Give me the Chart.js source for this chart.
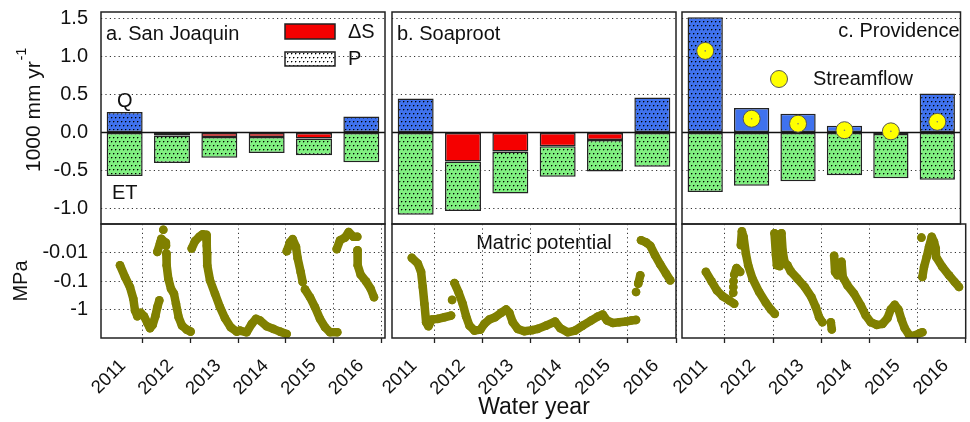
<!DOCTYPE html>
<html>
<head>
<meta charset="utf-8">
<script src="https://cdn.jsdelivr.net/npm/chart.js@4.4.1/dist/chart.umd.min.js"></script>
<style>
  html, body { margin: 0; padding: 0; background: #fff; }
  #wrap { position: relative; width: 970px; height: 422px; }
  #wrap canvas { position: absolute; left: 0; top: 0; }
</style>
</head>
<body>
<div id="wrap">
  <canvas id="aTop" width="970" height="422"></canvas>
  <canvas id="bTop" width="970" height="422"></canvas>
  <canvas id="cTop" width="970" height="422"></canvas>
  <canvas id="aBot" width="970" height="422"></canvas>
  <canvas id="bBot" width="970" height="422"></canvas>
  <canvas id="cBot" width="970" height="422"></canvas>
</div>
<script>
// water years and axis ticks
const years = ['2011', '2012', '2013', '2014', '2015', '2016'];
const yearTicks = [2011, 2012, 2013, 2014, 2015, 2016];
const fluxTicks = [-1, -0.5, 0, 0.5, 1, 1.5];
const psiTicks = [0.01, 0.1, 1];   // shown as -0.01, -0.1, -1 MPa

// water balance, 1000 mm/yr (ET and dS are stacked segments below zero)
const sjQ  = [0.27, null, null, null, null, 0.21];
const sjDS = [null, -0.04, -0.06, -0.06, -0.08, null];
const sjET = [-0.57, -0.36, -0.27, -0.21, -0.22, -0.39];

const spQ  = [0.445, null, null, null, null, 0.46];
const spDS = [null, -0.38, -0.25, -0.18, -0.10, null];
const spET = [-1.08, -0.65, -0.55, -0.40, -0.41, -0.45];

const pvQ  = [1.51, 0.32, 0.245, 0.09, null, 0.51];
const pvDS = [null, null, null, null, -0.02, null];
const pvET = [-0.78, -0.70, -0.64, -0.56, -0.58, -0.62];
const pvStream = [1.07, 0.18, 0.115, 0.03, 0.015, 0.14];

// matric potential: time (water-year axis, WY2011 ends at 2011) and |psi| in MPa, null = gap
const sjT = [2010.517, 2010.622, 2010.727, 2010.797, 2010.832, 2010.881, 2010.951, 2011.021, 2011.091, 2011.147, 2011.203, 2011.259, 2011.301, 2011.343, null,
  2011.301, 2011.357, 2011.385, 2011.47, 2011.483, null,
  2011.427, null,
  2011.49, 2011.497, 2011.532, 2011.588, 2011.651, 2011.693, 2011.749, 2011.819, 2011.917, 2012.001, null,
  2012.023, 2012.092, 2012.183, 2012.254, 2012.324, 2012.34, 2012.345, 2012.35, 2012.408, 2012.513, 2012.618, 2012.723, 2012.842, 2012.968, 2013.038, 2013.178, 2013.284, 2013.374, 2013.458, 2013.598, 2013.738, 2013.878, 2014.018, null,
  2014.02, 2014.088, 2014.144, 2014.214, 2014.249, 2014.312, 2014.354, null,
  2014.403, 2014.508, 2014.613, 2014.718, 2014.824, 2014.929, 2015.082, null,
  2015.069, 2015.139, 2015.244, 2015.321, 2015.418, 2015.502, null,
  2015.505, 2015.51, 2015.573, 2015.685, 2015.783, 2015.853];
const sjPsi = [0.028, 0.072, 0.163, 0.42, 1.08, 1.72, 1.31, 1.72, 2.96, 4.56, 3.48, 1.72, 0.83, 0.48, null,
  0.0095, 0.0048, 0.0033, 0.0045, 0.0058, null,
  0.0016, null,
  0.0108, 0.028, 0.083, 0.187, 0.28, 0.63, 1.87, 3.67, 5.08, 5.97, null,
  0.0072, 0.004, 0.0028, 0.0023, 0.0024, 0.0058, 0.011, 0.028, 0.095, 0.28, 0.83, 2.02, 4.2, 5.97, 5.5, 6.3, 3.2, 2.13, 2.44, 3.87, 4.8, 5.97, 7.2, null,
  0.009, 0.0044, 0.0034, 0.0063, 0.016, 0.048, 0.108, null,
  0.197, 0.37, 0.83, 2.13, 4.2, 6.3, 6.3, null,
  0.0076, 0.0037, 0.003, 0.0019, 0.0028, 0.0028, null,
  0.0083, 0.028, 0.06, 0.103, 0.187, 0.37];

const spT = [2010.539, 2010.663, 2010.731, 2010.766, 2010.8, 2010.835, 2010.883, 2010.952, 2011.076, 2011.213, 2011.351, null,
  2011.372, null,
  2011.42, 2011.51, 2011.592, 2011.661, 2011.73, 2011.833, 2011.957, 2012.039, 2012.143, 2012.26, 2012.384, 2012.488, 2012.556, 2012.626, 2012.729, 2012.866, 2013.03, 2013.142, 2013.314, 2013.5, 2013.61, 2013.762, 2013.913, 2014.072, 2014.244, 2014.382, 2014.485, 2014.574, 2014.692, 2014.829, 2014.967, 2015.07, 2015.174, null,
  2015.174, null,
  2015.22, 2015.262, null,
  2015.277, 2015.38, 2015.469, 2015.566, 2015.676, 2015.793, 2015.882];
const spPsi = [0.0154, 0.0244, 0.048, 0.163, 0.63, 2.8, 3.87, 2.25, 2.13, 1.87, 1.63, null,
  0.46, null,
  0.118, 0.26, 0.63, 1.72, 3.67, 5.5, 5.08, 3.2, 2.25, 1.87, 1.31, 1.0, 1.31, 2.8, 4.8, 5.8, 5.3, 4.8, 3.67, 2.65, 4.56, 6.3, 5.5, 3.67, 2.44, 1.77, 1.5, 2.44, 2.96, 2.8, 2.65, 2.44, 2.32, null,
  0.244, null,
  0.124, 0.063, null,
  0.0037, 0.0044, 0.0058, 0.0124, 0.0266, 0.055, 0.095];

const pvT = [2010.606, 2010.724, 2010.834, 2010.952, 2011.09, 2011.194, null,
  2011.173, null,
  2011.175, null,
  2011.18, null,
  2011.194, 2011.242, 2011.318, null,
  2011.332, 2011.353, 2011.388, 2011.436, 2011.484, 2011.574, 2011.712, 2011.851, 2011.954, 2012.037, null,
  2012.03, 2012.06, 2012.08, 2012.14, 2012.175, 2012.2, 2012.24, 2012.3, 2012.369, 2012.508, 2012.66, 2012.798, 2012.888, 2012.957, 2013.026, null,
  2013.2, 2013.22, null,
  2013.268, 2013.288, 2013.338, 2013.421, 2013.448, 2013.545, 2013.683, 2013.822, 2013.925, 2014.029, 2014.154, 2014.272, 2014.375, 2014.444, 2014.527, 2014.603, 2014.666, 2014.734, 2014.824, 2014.927, 2015.052, 2015.101, null,
  2015.081, null,
  2015.101, 2015.135, 2015.191, 2015.239, 2015.295, 2015.342, 2015.378, 2015.384, 2015.516, 2015.654, 2015.772, 2015.861];
const pvPsi = [0.048, 0.103, 0.213, 0.34, 0.48, 0.63, null,
  0.26, null,
  0.163, null,
  0.103, null,
  0.06, 0.035, 0.048, null,
  0.0055, 0.0018, 0.0028, 0.011, 0.028, 0.083, 0.244, 0.58, 1.0, 1.42, null,
  0.0021, 0.012, 0.028, 0.03, 0.0021, 0.009, 0.022, 0.028, 0.046, 0.083, 0.163, 0.37, 0.83, 1.87, 2.8, null,
  2.8, 5.0, null,
  0.013, 0.048, 0.063, 0.021, 0.072, 0.142, 0.28, 0.72, 1.63, 2.8, 3.48, 3.2, 2.02, 1.0, 0.68, 1.0, 2.25, 4.56, 7.8, 8.3, 6.7, 6.3, null,
  0.003, null,
  0.072, 0.032, 0.0142, 0.0063, 0.0028, 0.0042, 0.0072, 0.0142, 0.032, 0.063, 0.108, 0.163];

const FONT = '"Liberation Sans", Arial, sans-serif';
Chart.defaults.font.family = FONT;
Chart.defaults.color = '#111';

const BLUE = '#3f72ee';
const GREEN = '#80f080';
const RED = '#f50000';
const OLIVE = '#808000';

// stippled fill used for the P part of the bars
function dotted(color) {
  const c = document.createElement('canvas');
  c.width = 8; c.height = 8;
  const g = c.getContext('2d');
  g.fillStyle = color;
  g.fillRect(0, 0, 8, 8);
  g.fillStyle = '#000';
  [[1, 1], [5, 1], [3, 5], [7, 5]].forEach(([x, y]) => g.fillRect(x, y, 1, 1));
  g.fillStyle = 'rgba(0,0,0,0.35)';
  [[2, 1], [6, 1], [4, 5], [0, 5], [1, 2], [5, 2], [3, 6], [7, 6]].forEach(([x, y]) => g.fillRect(x, y, 1, 1));
  return g.createPattern(c, 'repeat');
}
const dotBlue = dotted(BLUE);
const dotGreen = dotted(GREEN);
const dotWhite = dotted('#ffffff');

function noPad(s) {
  s.paddingLeft = 0; s.paddingRight = 0; s.paddingTop = 0; s.paddingBottom = 0;
}

const frame = {
  id: 'frame',
  afterDraw(chart) {
    const { ctx, chartArea: a } = chart;
    ctx.save();
    ctx.strokeStyle = '#222';
    ctx.lineWidth = 1.5;
    ctx.strokeRect(a.left, a.top, a.right - a.left, a.bottom - a.top);
    ctx.restore();
  }
};

const zeroLine = {
  id: 'zeroLine',
  beforeDatasetsDraw(chart) {
    const { ctx, chartArea: a } = chart;
    const y = chart.scales.y.getPixelForValue(0);
    ctx.save();
    ctx.strokeStyle = '#111';
    ctx.lineWidth = 1.3;
    ctx.beginPath();
    ctx.moveTo(a.left, y);
    ctx.lineTo(a.right, y);
    ctx.stroke();
    ctx.restore();
  }
};

function text(ctx, s, x, y, size, align, base) {
  ctx.save();
  ctx.font = size + 'px ' + FONT;
  ctx.fillStyle = '#111';
  ctx.textAlign = align || 'left';
  ctx.textBaseline = base || 'alphabetic';
  ctx.fillText(s, x, y);
  ctx.restore();
}

function bar(label, data, fill) {
  return {
    label, data,
    backgroundColor: fill,
    borderColor: '#222',
    borderWidth: 1.5,
    borderSkipped: false,
    barPercentage: 0.76,
    categoryPercentage: 1,
    stack: 'w'
  };
}

function fluxChart(id, o) {
  const sets = [bar('Q', o.q, o.qFill), bar('ΔS', o.ds, RED), bar('ET', o.et, dotGreen)];
  if (o.stream) {
    sets.push({
      type: 'line', label: 'Streamflow', data: o.stream, showLine: false,
      pointRadius: 8.5, pointBackgroundColor: '#ffff00', pointBorderColor: '#555',
      pointBorderWidth: 1, order: -1, stack: 'sf'
    });
    sets.push({
      type: 'line', label: 'centre', data: o.stream, showLine: false,
      pointRadius: 0.8, pointBackgroundColor: '#777', pointBorderWidth: 0, order: -2, stack: 'sf2'
    });
  }
  return new Chart(document.getElementById(id), {
    type: 'bar',
    data: { labels: years, datasets: sets },
    options: {
      responsive: false, animation: false, devicePixelRatio: 1, events: [],
      layout: { padding: { left: o.left, right: 970 - o.right, top: 12, bottom: 198 } },
      plugins: { legend: { display: false }, tooltip: { enabled: false } },
      scales: {
        x: { display: false, stacked: true },
        y: {
          stacked: true, min: -1.2, max: 1.58,
          afterBuildTicks: s => { s.ticks = fluxTicks.map(v => ({ value: v })); },
          afterFit: s => { s.width = o.axisW; noPad(s); },
          grid: { color: '#333', lineWidth: 1, drawTicks: false },
          border: { display: false, dash: [1.2, 3.2] },
          ticks: { display: o.axisW > 0, padding: 13, font: { size: 20 }, callback: v => v.toFixed(1) }
        }
      }
    },
    plugins: [zeroLine, frame, { id: 'deco', afterDraw: o.deco }]
  });
}

function psiChart(id, o) {
  const pts = o.t.map((t, i) => ({ x: t, y: o.psi[i] }));
  return new Chart(document.getElementById(id), {
    type: 'line',
    data: {
      datasets: [{
        label: 'Matric potential', data: pts,
        borderColor: OLIVE, backgroundColor: OLIVE,
        borderWidth: 8.5, borderCapStyle: 'round', borderJoinStyle: 'round',
        pointRadius: 4.3, pointBorderWidth: 0, pointBackgroundColor: OLIVE,
        spanGaps: false, tension: 0
      }]
    },
    options: {
      responsive: false, animation: false, devicePixelRatio: 1, events: [],
      layout: { padding: { left: o.left, right: 970 - o.right, top: 224, bottom: 0 } },
      plugins: { legend: { display: false }, tooltip: { enabled: false } },
      scales: {
        x: {
          type: 'linear', min: o.xmin, max: o.xmax,
          afterBuildTicks: s => { s.ticks = yearTicks.map(v => ({ value: v })); },
          afterFit: s => { s.height = 84; noPad(s); },
          grid: { color: '#333', lineWidth: 1, tickLength: 5, tickColor: '#222', tickWidth: 1.3 },
          border: { display: false, dash: [1.2, 3.2] },
          ticks: {
            autoSkip: false, minRotation: 45, maxRotation: 45, labelOffset: -20, padding: 12,
            font: { size: 18.5 }, callback: v => String(v)
          },
          title: { display: !!o.xTitle, text: o.xTitle || '', font: { size: 23 }, padding: { top: 0, bottom: 1 } }
        },
        y: {
          type: 'logarithmic', reverse: true, min: 0.001, max: 10,
          afterBuildTicks: s => { s.ticks = psiTicks.map(v => ({ value: v })); },
          afterFit: s => { s.width = o.axisW; noPad(s); },
          grid: { color: '#333', lineWidth: 1, drawTicks: false },
          border: { display: false, dash: [1.2, 3.2] },
          ticks: { display: o.axisW > 0, padding: 13, font: { size: 20 }, callback: v => '-' + v },
          title: { display: o.axisW > 0, text: 'MPa', font: { size: 20 }, padding: { top: 9, bottom: 0 } }
        }
      }
    },
    plugins: [frame, { id: 'deco', afterDraw: o.deco || (() => {}) }]
  });
}

fluxChart('aTop', {
  left: 0, right: 385, axisW: 101, q: sjQ, ds: sjDS, et: sjET, qFill: dotBlue,
  deco(chart) {
    const { ctx, chartArea: a, scales: { x, y } } = chart;
    text(ctx, 'a. San Joaquin', a.left + 5, a.top + 28, 20);
    // legend
    ctx.save();
    ctx.lineWidth = 1.5; ctx.strokeStyle = '#222';
    ctx.fillStyle = RED;
    ctx.fillRect(a.right - 100, a.top + 12, 50, 15);
    ctx.strokeRect(a.right - 100, a.top + 12, 50, 15);
    ctx.fillStyle = dotWhite;
    ctx.fillRect(a.right - 100, a.top + 40, 50, 14);
    ctx.strokeRect(a.right - 100, a.top + 40, 50, 14);
    ctx.restore();
    text(ctx, 'ΔS', a.right - 37, a.top + 20, 20, 'left', 'middle');
    text(ctx, 'P', a.right - 37, a.top + 47, 20, 'left', 'middle');
    // Q / ET labels on first bar
    text(ctx, 'Q', x.getPixelForValue(0), y.getPixelForValue(sjQ[0]) - 5, 20, 'center');
    text(ctx, 'ET', x.getPixelForValue(0), y.getPixelForValue(sjET[0]) + 8, 20, 'center', 'top');
    // y axis title with superscript
    ctx.save();
    ctx.translate(40, 172);
    ctx.rotate(-Math.PI / 2);
    ctx.font = '21px ' + FONT;
    ctx.fillStyle = '#111';
    ctx.fillText('1000 mm yr', 0, 0);
    const w = ctx.measureText('1000 mm yr').width;
    ctx.font = '14px ' + FONT;
    ctx.fillText('-1', w + 1, -14);
    ctx.restore();
  }
});

fluxChart('bTop', {
  left: 392, right: 676, axisW: 0, q: spQ, ds: spDS, et: spET, qFill: dotBlue,
  deco(chart) {
    const { ctx, chartArea: a } = chart;
    text(ctx, 'b. Soaproot', a.left + 5, a.top + 28, 20);
  }
});

fluxChart('cTop', {
  left: 682, right: 966, axisW: 0, q: pvQ, ds: pvDS, et: pvET, stream: pvStream,
  qFill: [dotBlue, BLUE, BLUE, BLUE, BLUE, dotBlue],
  deco(chart) {
    const { ctx, chartArea: a } = chart;
    text(ctx, 'c. Providence', a.right - 1, a.top + 25, 20, 'right');
    ctx.save();
    ctx.beginPath();
    ctx.arc(a.left + 97, a.top + 67, 8.5, 0, Math.PI * 2);
    ctx.fillStyle = '#ffff00';
    ctx.fill();
    ctx.strokeStyle = '#555';
    ctx.lineWidth = 1;
    ctx.stroke();
    ctx.restore();
    text(ctx, 'Streamflow', a.left + 131, a.top + 67, 20, 'left', 'middle');
  }
});

psiChart('aBot', { left: 0, right: 385, axisW: 101, xmin: 2010.118, xmax: 2016.084, t: sjT, psi: sjPsi });
psiChart('bBot', {
  left: 392, right: 676, axisW: 0, xmin: 2010.13, xmax: 2016.0, t: spT, psi: spPsi, xTitle: 'Water year',
  deco(chart) {
    const { ctx, chartArea: a } = chart;
    text(ctx, 'Matric potential', a.left + 152, a.top + 25, 20, 'center');
  }
});
psiChart('cBot', { left: 682, right: 966, axisW: 0, xmin: 2010.11, xmax: 2016.0, t: pvT, psi: pvPsi });
</script>
</body>
</html>
